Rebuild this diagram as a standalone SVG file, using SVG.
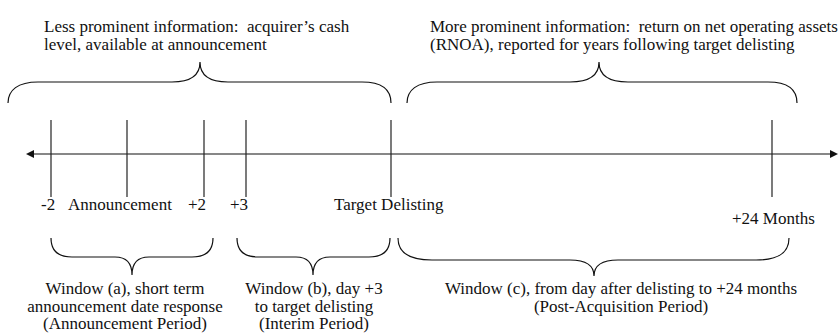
<svg xmlns="http://www.w3.org/2000/svg" width="838" height="336" viewBox="0 0 838 336" xml:space="preserve">
<style>
text { font-family: "Liberation Serif", "Times New Roman", serif; font-size: 17px; fill: #111; white-space: pre; }
.c { text-anchor: middle; }
.brace { fill: none; stroke: #111; stroke-width: 1.2; }
.tick { stroke: #222; stroke-width: 1.2; }
.axis { stroke: #111; stroke-width: 1.2; }
</style>
<rect width="838" height="336" fill="#fff"/>
<g id="top-left-label">
<text x="44" y="32">Less prominent information:  acquirer’s cash</text>
<text x="44" y="50">level, available at announcement</text>
</g>
<g id="top-right-label">
<text x="430" y="32">More prominent information:  return on net operating assets</text>
<text x="430" y="50">(RNOA), reported for years following target delisting</text>
</g>
<g id="connectors">
<path id="brace-top-left" class="brace" d="M8,103 C8,90 18,82 38,82 L172,82 C190,82 200,76 200,62 C200,76 210,82 228,82 L362,82 C382,82 391,90 391,103"/>
<path id="brace-top-right" class="brace" d="M407,103 C407,90 417,82 437,82 L570,82 C588,82 599,76 599,62 C599,76 610,82 628,82 L768,82 C788,82 797,90 797,103"/>
<line class="axis" x1="32" y1="154" x2="832" y2="154"/>
<polygon points="26,154 34,150 34,158" fill="#111"/>
<polygon points="838,154 830,150 830,158" fill="#111"/>
<line class="tick" x1="51" y1="120" x2="51" y2="197"/>
<line class="tick" x1="127" y1="120" x2="127" y2="197"/>
<line class="tick" x1="204" y1="120" x2="204" y2="197"/>
<line class="tick" x1="246" y1="120" x2="246" y2="197"/>
<line class="tick" x1="391" y1="120" x2="391" y2="197"/>
<line class="tick" x1="772" y1="120" x2="772" y2="197"/>
<path id="brace-a" class="brace" d="M51,238 C51,250 58,257 72,257 L115,257 C127,257 132,264 132,275 C132,264 137,257 149,257 L192,257 C206,257 213,250 213,238"/>
<path id="brace-b" class="brace" d="M237,238 C237,250 244,257 258,257 L296,257 C308,257 313,264 313,275 C313,264 318,257 330,257 L369,257 C383,257 390,250 390,238"/>
<path id="brace-c" class="brace" d="M398,238 C398,252 408,260 432,260 L570,260 C586,260 594,266 594,276 C594,266 602,260 618,260 L756,260 C780,260 789,252 789,238"/>
</g>
<g id="tick-labels">
<text x="41" y="210">-2</text>
<text x="68" y="210">Announcement</text>
<text x="188" y="210">+2</text>
<text x="230" y="210">+3</text>
<text x="334" y="210">Target Delisting</text>
<text x="732" y="224">+24 Months</text>
</g>
<g id="window-a">
<text class="c" x="125" y="294">Window (a), short term</text>
<text class="c" x="125" y="311.5">announcement date response</text>
<text class="c" x="125" y="329">(Announcement Period)</text>
</g>
<g id="window-b">
<text class="c" x="314" y="294">Window (b), day +3</text>
<text class="c" x="314" y="311.5">to target delisting</text>
<text class="c" x="314" y="329">(Interim Period)</text>
</g>
<g id="window-c">
<text class="c" x="621" y="294">Window (c), from day after delisting to +24 months</text>
<text class="c" x="621" y="311.5">(Post-Acquisition Period)</text>
</g>
</svg>
